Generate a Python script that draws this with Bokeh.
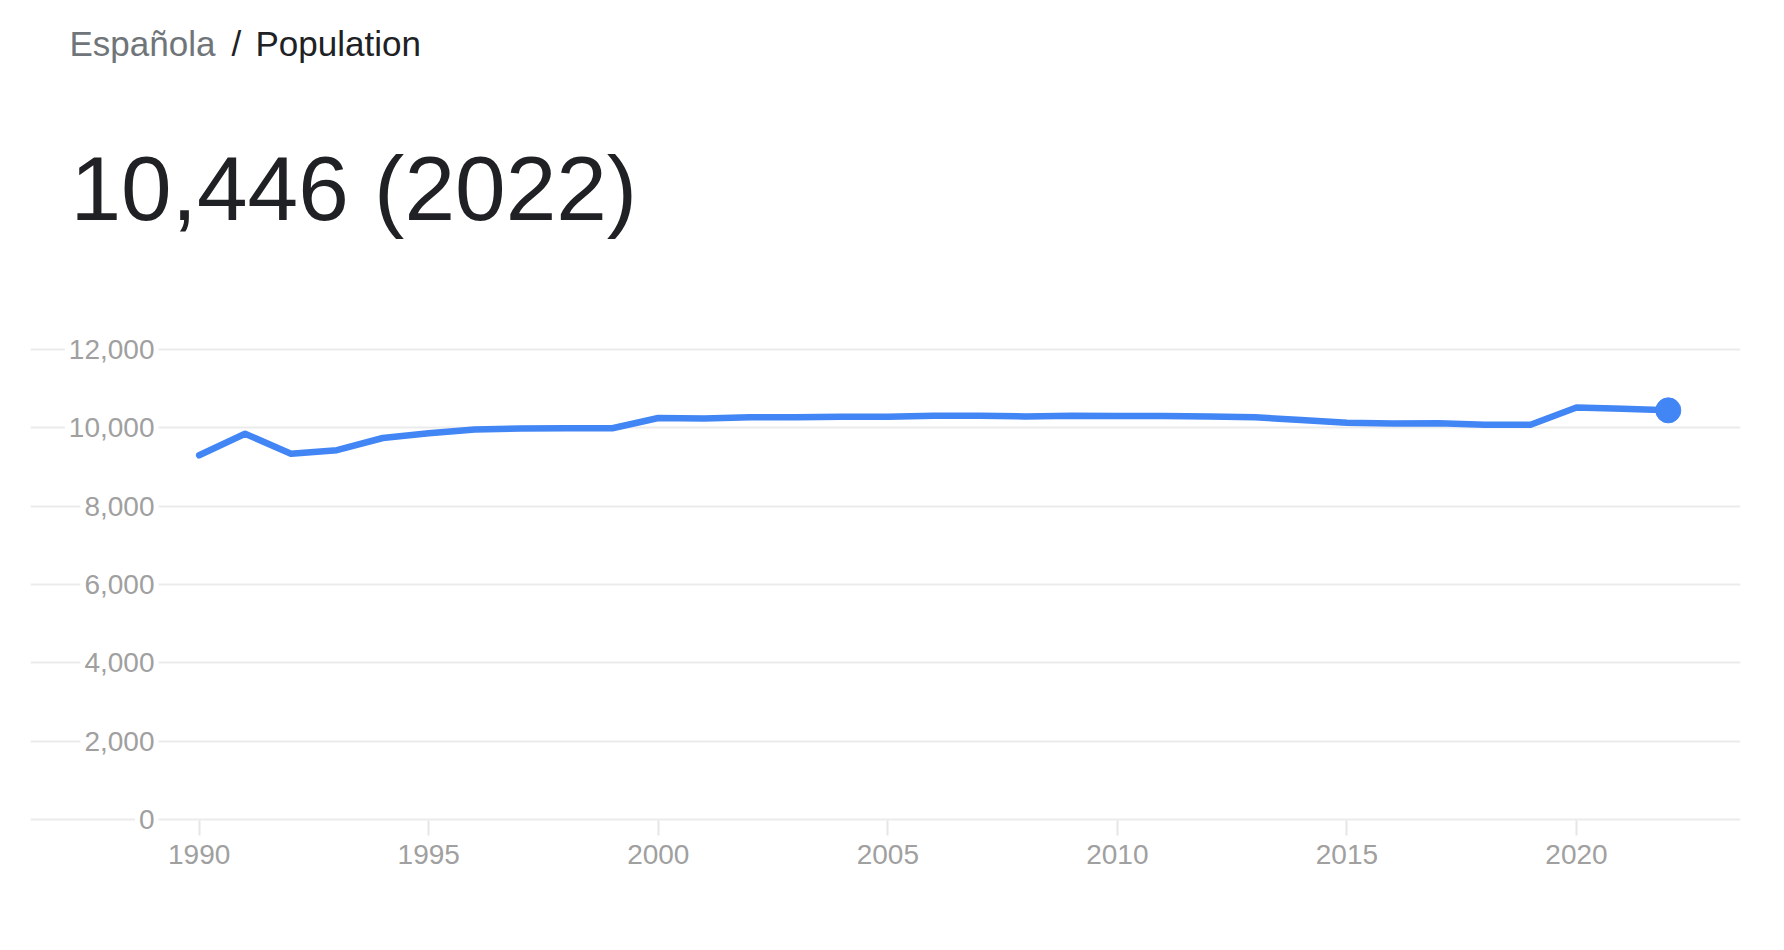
from bokeh.plotting import figure
from bokeh.models import Label, FixedTicker, Range1d
from bokeh.embed import file_html
from bokeh.resources import INLINE

# ---- data ----
years = [1990, 1991, 1992, 1993, 1994, 1995, 1996, 1997, 1998, 1999,
         2000, 2001, 2002, 2003, 2004, 2005, 2006, 2007, 2008, 2009,
         2010, 2011, 2012, 2013, 2014, 2015, 2016, 2017, 2018, 2019,
         2020, 2021, 2022]
population = [9300, 9850, 9340, 9430, 9740, 9860, 9960, 9980, 9990, 9990,
              10250, 10240, 10270, 10270, 10280, 10280, 10310, 10310, 10290, 10310,
              10300, 10300, 10290, 10270, 10200, 10130, 10110, 10120, 10080, 10080,
              10520, 10490, 10446]
y_ticks = [0, 2000, 4000, 6000, 8000, 10000, 12000]
y_tick_labels = ["0", "2,000", "4,000", "6,000", "8,000", "10,000", "12,000"]
x_ticks = [1990, 1995, 2000, 2005, 2010, 2015, 2020]
place_name = "Española"
stat_name = "Population"
latest_value = "10,446"
latest_year = 2022

FONT = "Liberation Sans"
BLUE = "#4285F4"
GRID = "#ebebeb"
TICK_TEXT = "#a0a0a0"
DARK = "#202124"
GREY = "#70757a"

# frame spans the header area too, so header labels are not clipped
p = figure(frame_width=1710, frame_height=835,
           x_range=Range1d(1986.326, 2023.573), y_range=Range1d(-408.5, 20910.5),
           output_backend="svg", toolbar_location=None,
           min_border_left=30, min_border_right=44,
           min_border_top=0, min_border_bottom=70)
p.outline_line_color = None
p.background_fill_color = "white"
p.border_fill_color = "white"

p.yaxis.visible = False
p.yaxis.ticker = FixedTicker(ticks=y_ticks)
p.ygrid.grid_line_color = GRID
p.ygrid.grid_line_width = 2
p.xgrid.visible = False

p.xaxis.ticker = FixedTicker(ticks=x_ticks)
p.xaxis.axis_line_color = None
p.xaxis.major_tick_line_color = "#e6e6e6"
p.xaxis.major_tick_line_width = 2
p.xaxis.major_tick_in = 15
p.xaxis.major_tick_out = 0
p.xaxis.minor_tick_line_color = None
p.xaxis.major_label_text_font = FONT
p.xaxis.major_label_text_font_size = "28px"
p.xaxis.major_label_text_color = TICK_TEXT
p.xaxis.major_label_standoff = 9

p.line(years, population, line_color=BLUE, line_width=6.5,
       line_cap="round", line_join="round")
p.scatter([years[-1]], [population[-1]], size=25, marker="circle",
          fill_color=BLUE, line_color=BLUE)

for t, lab in zip(y_ticks, y_tick_labels):
    p.add_layout(Label(x=128, y=t, x_units="screen", y_units="data", text=lab,
                       text_align="right", text_baseline="middle",
                       text_font=FONT, text_font_size="28px", text_color=TICK_TEXT,
                       background_fill_color="white", padding=4))

# header texts (screen units relative to the frame's bottom-left)
p.add_layout(Label(x=39, y=792, x_units="screen", y_units="screen", text=place_name,
                   text_align="left", text_baseline="alphabetic",
                   text_font=FONT, text_font_size="35px", text_color=GREY))
p.add_layout(Label(x=201, y=792, x_units="screen", y_units="screen", text="/",
                   text_align="left", text_baseline="alphabetic",
                   text_font=FONT, text_font_size="35px", text_color=DARK))
p.add_layout(Label(x=225, y=792, x_units="screen", y_units="screen", text=stat_name,
                   text_align="left", text_baseline="alphabetic",
                   text_font=FONT, text_font_size="35px", text_color=DARK))
p.add_layout(Label(x=40, y=647, x_units="screen", y_units="screen",
                   text=f"{latest_value} ({latest_year})",
                   text_align="left", text_baseline="alphabetic",
                   text_font=FONT, text_font_size="91px", text_color=DARK))

open("out.html", "w").write(file_html(p, INLINE))
